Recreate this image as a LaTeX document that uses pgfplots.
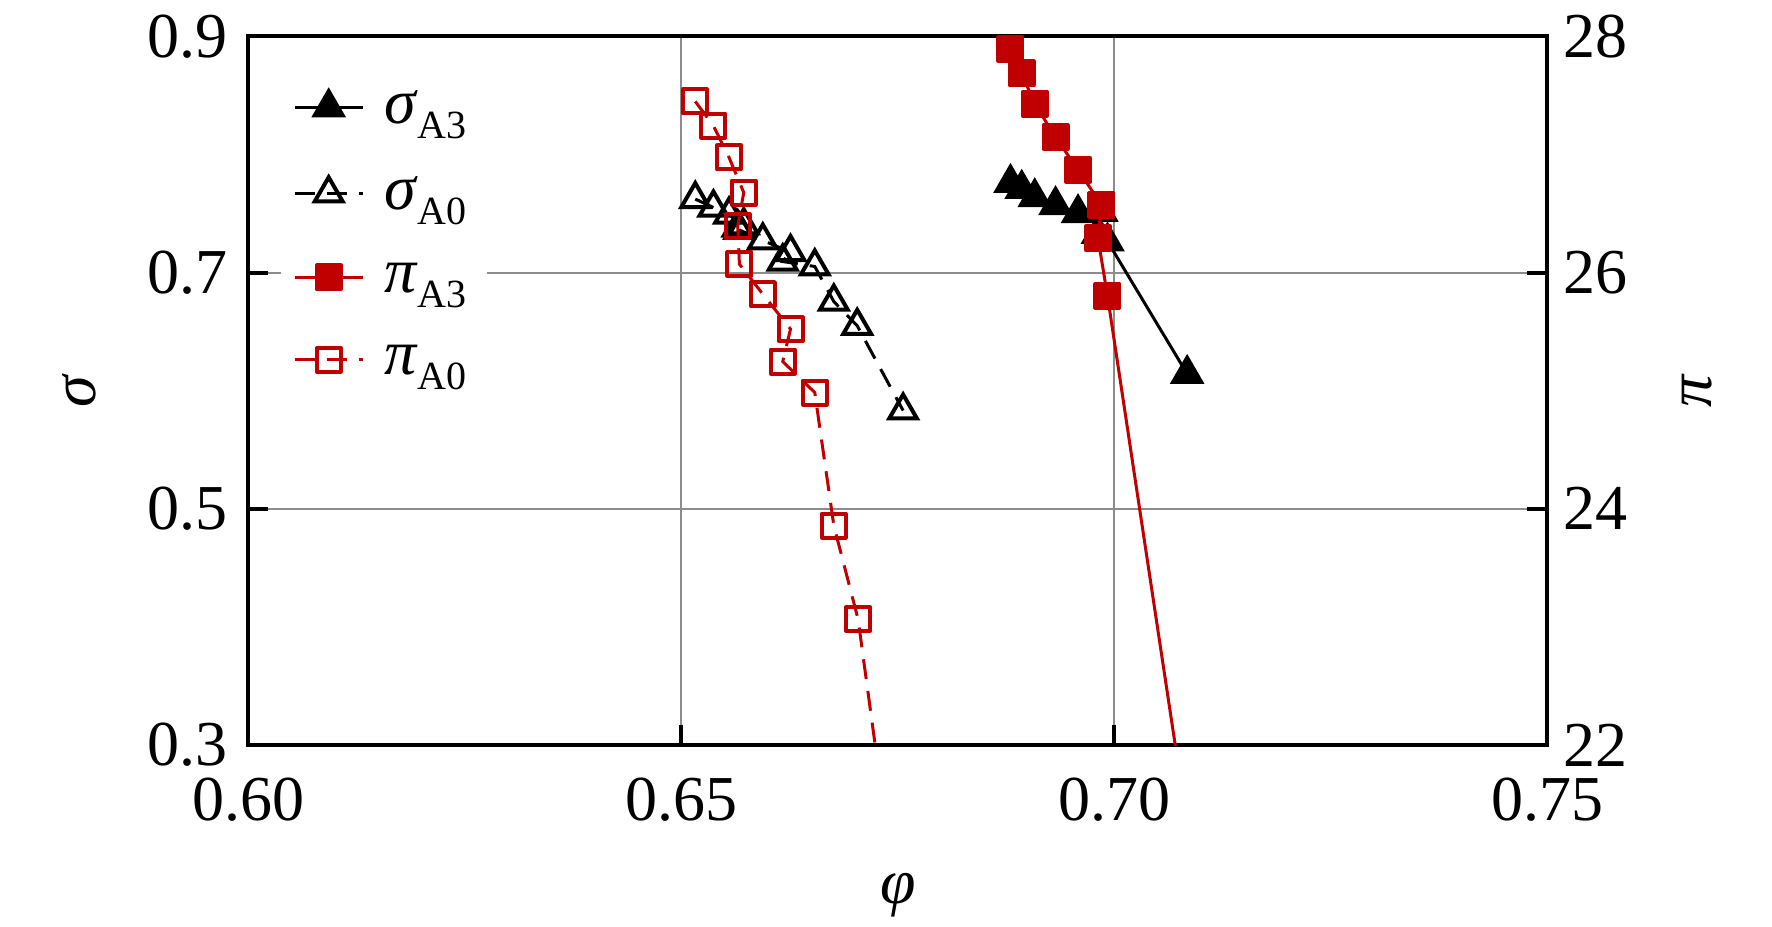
\documentclass[border=0pt]{standalone}
\usepackage{fontspec}
\setmainfont{Liberation Serif}
\usepackage{pgfplots}
\usepackage{pgfplotstable}
\pgfplotsset{compat=1.18}
\definecolor{myred}{RGB}{192,0,0}
\definecolor{mygrid}{RGB}{140,140,140}

\pgfplotstableread{
x y
0.6880 0.7759
0.6893 0.7709
0.6908 0.7638
0.6932 0.7571
0.6958 0.7503
0.6985 0.7514
0.6981 0.7328
0.6992 0.7264
0.7084 0.6142
}\sigmaAthree

\pgfplotstableread{
x y
0.6516 0.7622
0.6537 0.7550
0.6555 0.7489
0.6572 0.7400
0.6565 0.7381
0.6567 0.7360
0.6594 0.7271
0.6626 0.7173
0.6617 0.7093
0.6654 0.7051
0.6676 0.6754
0.6703 0.6549
0.6756 0.5832
}\sigmaAzero

\pgfplotstableread{
x y
0.6880 27.894
0.6893 27.685
0.6908 27.428
0.6932 27.146
0.6958 26.870
0.6985 26.573
0.6981 26.291
0.6992 25.803
0.7084 21.330
}\piAthree

\pgfplotstableread{
x y
0.6516 27.448
0.6537 27.242
0.6555 26.974
0.6572 26.677
0.6565 26.390
0.6567 26.071
0.6594 25.817
0.6626 25.521
0.6617 25.246
0.6654 24.984
0.6676 23.858
0.6704 23.065
0.6756 20.260
}\piAzero

\newcommand\bigf{\fontsize{16}{19}\selectfont}
\newcommand\legf{\fontsize{16}{19}\selectfont}
\newcommand\subf{\fontsize{10}{11}\selectfont}

\begin{document}
\begin{tikzpicture}
\useasboundingbox (-62.1pt,-45.25pt) rectangle (380.9pt,186.25pt);
\pgfplotsset{
  common/.style={
    width=324.75pt, height=177.2pt, scale only axis,
    xmin=0.60, xmax=0.75,
    xtick={0.60,0.65,0.70,0.75},
    /pgf/number format/assume math mode=true,
    tick label style={font=\bigf},
    label style={font=\bigf},
    axis line style={line width=1pt},
    major tick length=5pt,
    tick style={black, line width=1pt},
  },
  sAthree/.style={black, line width=0.75pt, mark=triangle*, mark size=4pt, mark options={solid, line width=1pt, fill=black}},
  sAzero/.style={black, line width=0.75pt, dash pattern=on 5pt off 3pt, mark=triangle, mark size=4pt, mark options={solid, line width=1pt}},
  pAthree/.style={myred, line width=0.75pt, mark=square*, mark size=3pt, mark options={solid, line width=1pt, fill=myred, line join=round}},
  pAzero/.style={myred, line width=0.75pt, dash pattern=on 5pt off 3pt, mark=square, mark size=3pt, mark options={solid, line width=1pt, line join=round}},
}
\begin{axis}[common,
  ymin=0.3, ymax=0.9, ytick={0.3,0.5,0.7,0.9},
  xtick pos=left, ytick pos=left,
  grid=major, grid style={mygrid, line width=0.5pt},
  xticklabel style={yshift=-4.7pt, /pgf/number format/.cd, fixed, fixed zerofill, precision=2},
  yticklabel style={xshift=-1.8pt, /pgf/number format/.cd, fixed, fixed zerofill, precision=1},
  xlabel={\textit{φ}}, ylabel={\textit{σ}},
  xlabel style={at={(axis description cs:0.5,-0.2116)}, anchor=center},
  ylabel style={at={(axis description cs:-0.1303,0.5)}, anchor=center},
]
\addplot[sAthree] table[x=x,y=y] {\sigmaAthree};
\addplot[sAzero] table[x=x,y=y] {\sigmaAzero};
\end{axis}
\begin{axis}[common,
  ymin=22, ymax=28, ytick={22,24,26,28},
  axis y line*=right, hide x axis,
  yticklabel style={xshift=0.5pt},
  ylabel={\textit{π}},
  ylabel style={at={(axis description cs:1.1155,0.5)}, anchor=center},
  legend cell align=left,
  legend style={at={(axis description cs:0.0245,0.9468)}, anchor=north west,
    draw=none, fill=white, font=\legf, row sep=9.25pt,
    inner xsep=3pt, inner ysep=2pt, nodes={inner sep=2pt, text depth=0pt},
    /tikz/every odd column/.style={column sep=3pt}},
]
\addlegendimage{sAthree}
\addlegendentry{\textit{σ}\raisebox{-3.8pt}[0pt][0pt]{\subf A3}}
\addlegendimage{sAzero}
\addlegendentry{\textit{σ}\raisebox{-3.8pt}[0pt][0pt]{\subf A0}}
\addplot[pAthree] table[x=x,y=y] {\piAthree};
\addlegendentry{\textit{π}\raisebox{-3.8pt}[0pt][0pt]{\subf A3}}
\addplot[pAzero] table[x=x,y=y] {\piAzero};
\addlegendentry{\textit{π}\raisebox{-3.8pt}[0pt][0pt]{\subf A0}}
\end{axis}
\end{tikzpicture}
\end{document}
